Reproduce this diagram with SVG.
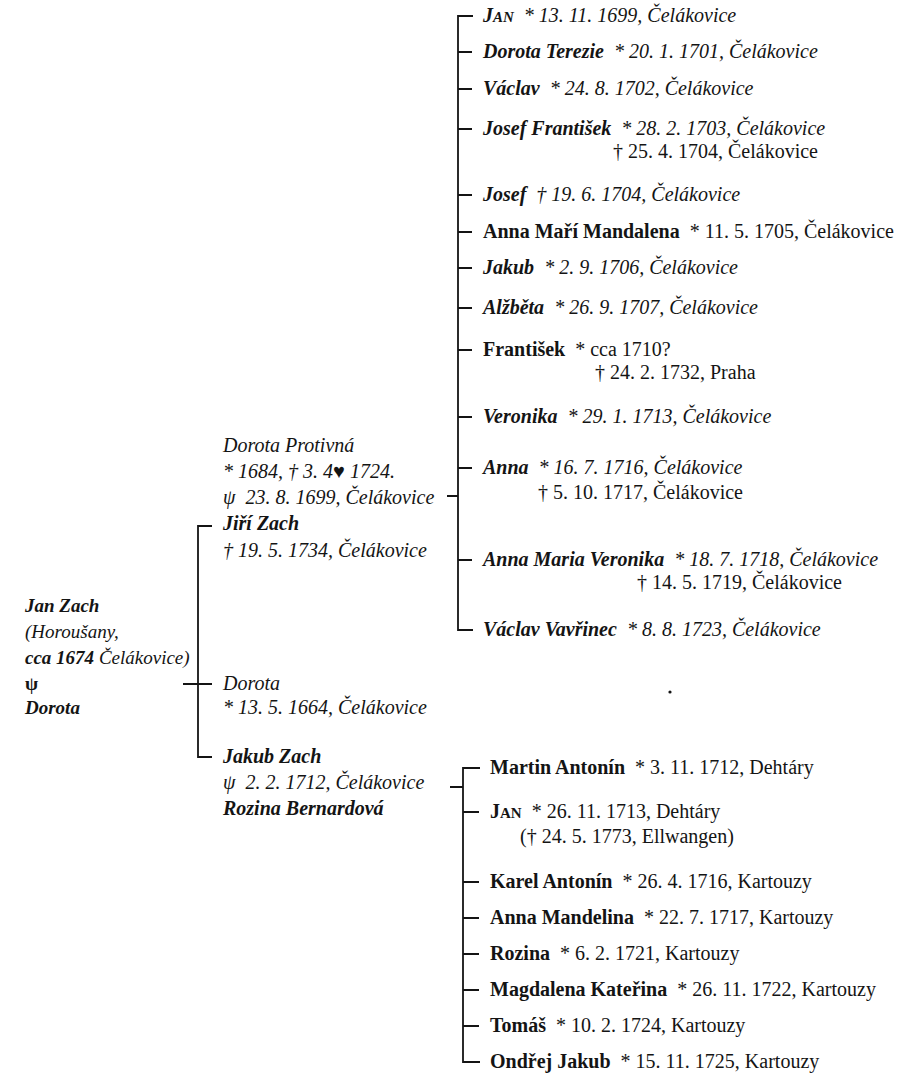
<svg xmlns="http://www.w3.org/2000/svg" width="905" height="1092" viewBox="0 0 905 1092">
<style>
text{font-family:"Liberation Serif","DejaVu Serif",serif;font-size:20px;fill:#141414}
.bi{font-weight:bold;font-style:italic}
.b{font-weight:bold}
.i{font-style:italic}
.sc{font-size:15px}
.lf{font-size:19px}
.ln{stroke:#141414;stroke-width:1.8;fill:none}
</style>
<rect width="905" height="1092" fill="#fff"/>
<g id="connectors">
<path class="ln" d="M473,16 H458 V630 H473"/>
<path class="ln" d="M458,52 H472 M458,89 H472 M458,129 H472 M458,195 H472 M458,232 H472 M458,268 H472 M458,308 H472 M458,350 H472 M458,417 H472 M458,468 H472 M458,560 H472 M447,496 H458"/>
<path class="ln" d="M480,768 H463 V1062 H480"/>
<path class="ln" d="M463,812 H479 M463,882 H479 M463,918 H479 M463,954 H479 M463,990 H479 M463,1026 H479 M450,787 H463"/>
<path class="ln" d="M212,526 H198 V757 H212 M183,684 H212"/>
<circle cx="670" cy="692" r="1.6" fill="#141414"/>
</g>
<g id="jan-zach">
<text x="25" y="612" class="bi lf">Jan Zach</text>
<text x="25" y="638" class="i lf">(Horoušany,</text>
<text x="25" y="664" class="i lf"><tspan class="bi">cca 1674</tspan> Čelákovice)</text>
<text x="25" y="690" class="b lf">ψ</text>
<text x="25" y="714" class="bi lf">Dorota</text>
</g>
<g id="jiri-zach">
<text x="223" y="452" class="i">Dorota Protivná</text>
<text x="223" y="478" class="i">* 1684, † 3. 4♥ 1724.</text>
<text x="223" y="504" class="i">ψ&#160; 23. 8. 1699, Čelákovice</text>
<text x="223" y="530" class="bi">Jiří Zach</text>
<text x="223" y="557" class="i">† 19. 5. 1734, Čelákovice</text>
</g>
<g id="dorota">
<text x="223" y="690" class="i">Dorota</text>
<text x="223" y="714" class="i">* 13. 5. 1664, Čelákovice</text>
</g>
<g id="jakub-zach">
<text x="223" y="763" class="bi">Jakub Zach</text>
<text x="223" y="789" class="i">ψ&#160; 2. 2. 1712, Čelákovice</text>
<text x="223" y="815" class="bi">Rozina Bernardová</text>
</g>
<g id="c1"><text x="483" y="22" class="i"><tspan class="bi">J<tspan class="sc">AN</tspan></tspan>&#160; * 13. 11. 1699, Čelákovice</text></g>
<g id="c2"><text x="483" y="58" class="i"><tspan class="bi">Dorota Terezie</tspan>&#160; * 20. 1. 1701, Čelákovice</text></g>
<g id="c3"><text x="483" y="95" class="i"><tspan class="bi">Václav</tspan>&#160; * 24. 8. 1702, Čelákovice</text></g>
<g id="c4"><text x="483" y="135" class="i"><tspan class="bi">Josef František</tspan>&#160; * 28. 2. 1703, Čelákovice</text>
<text x="613" y="158">† 25. 4. 1704, Čelákovice</text></g>
<g id="c5"><text x="483" y="201" class="i"><tspan class="bi">Josef</tspan>&#160; † 19. 6. 1704, Čelákovice</text></g>
<g id="c6"><text x="483" y="238"><tspan class="b">Anna Maří Mandalena</tspan>&#160; * 11. 5. 1705, Čelákovice</text></g>
<g id="c7"><text x="483" y="274" class="i"><tspan class="bi">Jakub</tspan>&#160; * 2. 9. 1706, Čelákovice</text></g>
<g id="c8"><text x="483" y="314" class="i"><tspan class="bi">Alžběta</tspan>&#160; * 26. 9. 1707, Čelákovice</text></g>
<g id="c9"><text x="483" y="356"><tspan class="b">František</tspan>&#160; * cca 1710?</text>
<text x="595" y="379">† 24. 2. 1732, Praha</text></g>
<g id="c10"><text x="483" y="423" class="i"><tspan class="bi">Veronika</tspan>&#160; * 29. 1. 1713, Čelákovice</text></g>
<g id="c11"><text x="483" y="474" class="i"><tspan class="bi">Anna</tspan>&#160; * 16. 7. 1716, Čelákovice</text>
<text x="538" y="499">† 5. 10. 1717, Čelákovice</text></g>
<g id="c12"><text x="483" y="566" class="i"><tspan class="bi">Anna Maria Veronika</tspan>&#160; * 18. 7. 1718, Čelákovice</text>
<text x="637" y="589">† 14. 5. 1719, Čelákovice</text></g>
<g id="c13"><text x="483" y="636" class="i"><tspan class="bi">Václav Vavřinec</tspan>&#160; * 8. 8. 1723, Čelákovice</text></g>
<g id="d1"><text x="490" y="774"><tspan class="b">Martin Antonín</tspan>&#160; * 3. 11. 1712, Dehtáry</text></g>
<g id="d2"><text x="490" y="818"><tspan class="b">J<tspan class="sc">AN</tspan></tspan>&#160; * 26. 11. 1713, Dehtáry</text>
<text x="520" y="843">(† 24. 5. 1773, Ellwangen)</text></g>
<g id="d3"><text x="490" y="888"><tspan class="b">Karel Antonín</tspan>&#160; * 26. 4. 1716, Kartouzy</text></g>
<g id="d4"><text x="490" y="924"><tspan class="b">Anna Mandelina</tspan>&#160; * 22. 7. 1717, Kartouzy</text></g>
<g id="d5"><text x="490" y="960"><tspan class="b">Rozina</tspan>&#160; * 6. 2. 1721, Kartouzy</text></g>
<g id="d6"><text x="490" y="996"><tspan class="b">Magdalena Kateřina</tspan>&#160; * 26. 11. 1722, Kartouzy</text></g>
<g id="d7"><text x="490" y="1032"><tspan class="b">Tomáš</tspan>&#160; * 10. 2. 1724, Kartouzy</text></g>
<g id="d8"><text x="490" y="1068"><tspan class="b">Ondřej Jakub</tspan>&#160; * 15. 11. 1725, Kartouzy</text></g>
</svg>
